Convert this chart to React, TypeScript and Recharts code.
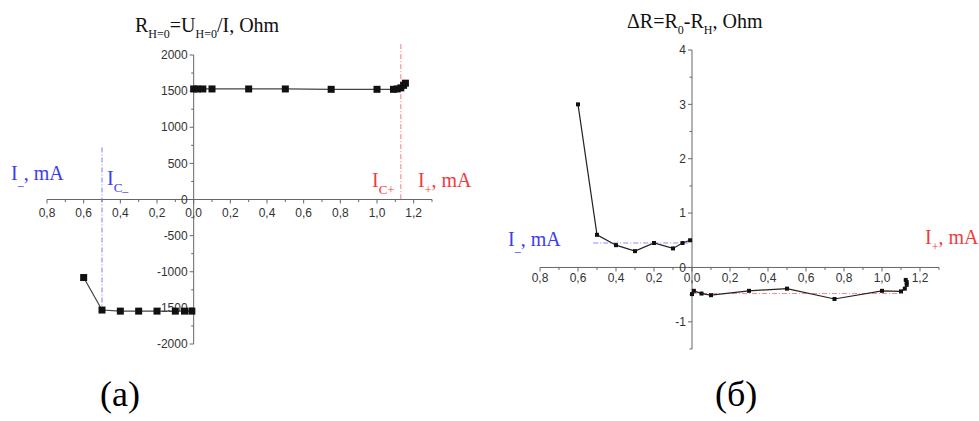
import * as Recharts from "recharts";
import { LineChart, Line, XAxis, YAxis, ReferenceLine, Customized } from "recharts";

// panel (a): R(H=0) vs current, left branch is I-, right branch is I+
const aNegI = [-0.6, -0.5, -0.4, -0.3, -0.2, -0.1, -0.05, -0.01];
const aNegR = [-1080, -1530, -1545, -1545, -1545, -1545, -1545, -1545];
const aPosI = [0, 0.02, 0.05, 0.1, 0.3, 0.5, 0.75, 1.0, 1.09, 1.11, 1.13, 1.145, 1.155];
const aPosR = [1530, 1530, 1530, 1530, 1530, 1530, 1525, 1525, 1525, 1530, 1545, 1580, 1610];

// panel (б): ΔR vs current
const bNegI = [-0.6, -0.5, -0.4, -0.3, -0.2, -0.1, -0.05, -0.01];
const bNegD = [3.0, 0.6, 0.41, 0.3, 0.45, 0.35, 0.45, 0.5];
const bPosI = [0, 0.01, 0.05, 0.1, 0.3, 0.5, 0.75, 1.0, 1.1, 1.12, 1.13, 1.13, 1.125];
const bPosD = [-0.49, -0.43, -0.48, -0.51, -0.43, -0.39, -0.58, -0.43, -0.44, -0.39, -0.32, -0.27, -0.23];

const xTicks = [-0.8, -0.6, -0.4, -0.2, 0, 0.2, 0.4, 0.6, 0.8, 1.0, 1.2];
const xMinor = [-0.7, -0.5, -0.3, -0.1, 0.1, 0.3, 0.5, 0.7, 0.9, 1.1, 1.3];
const aYTicks = [2000, 1500, 1000, 500, 0, -500, -1000, -1500, -2000];
const aYMinor = [1750, 1250, 750, 250, -250, -750, -1250, -1750];
const bYTicks = [4, 3, 2, 1, 0, -1];
const bYMinor = [3.5, 2.5, 1.5, 0.5, -0.5, -1.5];

const X_DOM: [number, number] = [-0.8, 1.3];
const A_DOM: [number, number] = [-2000, 2000];
const B_DOM: [number, number] = [-1.5, 4];

const SANS = "'Liberation Sans', Arial, sans-serif";
const SERIF = "'Liberation Serif', 'Times New Roman', serif";
const BLUE = "#3b3bf5";
const RED = "#f03c3c";

const zip = (xs: number[], ys: number[]) => xs.map((x, i) => ({ x, y: ys[i] }));

const fmtX = (v: number) => Math.abs(v).toFixed(1).replace(".", ",");

function squareDot(size: number) {
  return (p: any) => (
    <rect
      key={`d-${p.index}`}
      x={p.cx - size / 2}
      y={p.cy - size / 2}
      width={size}
      height={size}
      fill="#111"
    />
  );
}

// parts: [text, baseline shift (px, positive = down), font size]
function Rich({ x, y, fill, parts }: any) {
  let prev = 0;
  return (
    <text x={x} y={y} fill={fill} fontFamily={SERIF} fontSize={20}>
      {parts.map(([s, shift, size]: any, i: number) => {
        const dy = shift - prev;
        prev = shift;
        return (
          <tspan key={i} dy={dy} fontSize={size}>
            {s}
          </tspan>
        );
      })}
    </text>
  );
}

function ZeroAxes({ yDom, yTicks, yMinor, fallback, labelDy, annot }: any) {
  const R: any = Recharts;
  const pa = R.usePlotArea ? R.usePlotArea() : undefined;
  const area = pa && pa.width ? pa : fallback;
  const sx = (v: number) => area.x + ((v - X_DOM[0]) / (X_DOM[1] - X_DOM[0])) * area.width;
  const sy = (v: number) => area.y + ((yDom[1] - v) / (yDom[1] - yDom[0])) * area.height;
  const x0 = sx(0);
  const y0 = sy(0);
  const ax = "#666";

  return (
    <g>
      <line x1={area.x} x2={area.x + area.width} y1={y0} y2={y0} stroke={ax} />
      <line x1={x0} x2={x0} y1={area.y} y2={area.y + area.height} stroke={ax} />
      {xTicks.map((t) => (
        <g key={`xt${t}`}>
          <line x1={sx(t)} x2={sx(t)} y1={y0} y2={y0 + 4} stroke={ax} />
          <text x={sx(t)} y={y0 + labelDy} textAnchor="middle" fontFamily={SANS} fontSize={12} fill="#333">
            {fmtX(t)}
          </text>
        </g>
      ))}
      {xMinor.map((t) => (
        <line key={`xm${t}`} x1={sx(t)} x2={sx(t)} y1={y0} y2={y0 + 2.5} stroke={ax} />
      ))}
      {yTicks.map((t: number) => (
        <g key={`yt${t}`}>
          <line x1={x0 - 4} x2={x0} y1={sy(t)} y2={sy(t)} stroke={ax} />
          <text x={x0 - 6} y={sy(t)} dy="0.35em" textAnchor="end" fontFamily={SANS} fontSize={12} fill="#333">
            {t}
          </text>
        </g>
      ))}
      {yMinor.map((t: number) => (
        <line key={`ym${t}`} x1={x0 - 2.5} x2={x0} y1={sy(t)} y2={sy(t)} stroke={ax} />
      ))}
      {annot && annot(sx, sy)}
    </g>
  );
}

function annotA() {
  return (
    <g>
      <Rich
        x={135}
        y={32}
        fill="#111"
        parts={[["R", 0, 20], ["H=0", 6, 12], ["=U", 0, 20], ["H=0", 6, 12], ["/I, Ohm", 0, 20]]}
      />
      <Rich x={11} y={180} fill={BLUE} parts={[["I", 0, 20], ["–", 9, 12], [", mA", 0, 20]]} />
      <Rich x={107} y={185} fill={BLUE} parts={[["I", 0, 20], ["C", 7, 13], ["–", 10, 12]]} />
      <Rich x={372} y={187} fill={RED} parts={[["I", 0, 20], ["C+", 7, 13]]} />
      <Rich x={418} y={187} fill={RED} parts={[["I", 0, 20], ["+", 7, 12], [", mA", 0, 20]]} />
    </g>
  );
}

function annotB() {
  return (
    <g>
      <Rich
        x={137}
        y={28}
        fill="#111"
        parts={[["ΔR=R", 0, 20], ["0", 6, 12], ["-R", 0, 20], ["H", 6, 12], [", Ohm", 0, 20]]}
      />
      <Rich x={18} y={246} fill={BLUE} parts={[["I", 0, 20], ["–", 9, 12], [", mA", 0, 20]]} />
      <Rich x={435} y={244} fill={RED} parts={[["I", 0, 20], ["+", 7, 12], [", mA", 0, 20]]} />
    </g>
  );
}

const A_W = 490;
const A_H = 421;
const A_M = { top: 55, right: 58, bottom: 77, left: 47 };
const B_W = 489;
const B_H = 421;
const B_M = { top: 50, right: 40, bottom: 72, left: 50 };

export default function App() {
  return (
    <div style={{ position: "absolute", left: 0, top: 0, width: 979, height: 421, background: "#fff" }}>
      <div style={{ position: "absolute", left: 0, top: 0 }}>
        <LineChart width={A_W} height={A_H} margin={A_M}>
          <XAxis type="number" dataKey="x" domain={X_DOM} allowDataOverflow hide />
          <YAxis type="number" dataKey="y" domain={A_DOM} allowDataOverflow hide />
          <Customized
            component={
              <ZeroAxes
                yDom={A_DOM}
                yTicks={aYTicks}
                yMinor={aYMinor}
                labelDy={17}
                fallback={{ x: A_M.left, y: A_M.top, width: A_W - A_M.left - A_M.right, height: A_H - A_M.top - A_M.bottom }}
                annot={annotA}
              />
            }
          />
          <ReferenceLine
            segment={[{ x: -0.5, y: 720 }, { x: -0.5, y: -1530 }]}
            stroke="#7a7aff"
            strokeDasharray="5 2 1 2"
            ifOverflow="visible"
          />
          <ReferenceLine
            segment={[{ x: 1.13, y: 2150 }, { x: 1.13, y: 0 }]}
            stroke="#ff7a7a"
            strokeDasharray="5 2 1 2"
            ifOverflow="visible"
          />
          <Line data={zip(aNegI, aNegR)} dataKey="y" stroke="#444" strokeWidth={1.2} dot={squareDot(7)} isAnimationActive={false} />
          <Line data={zip(aPosI, aPosR)} dataKey="y" stroke="#444" strokeWidth={1.2} dot={squareDot(7)} isAnimationActive={false} />
        </LineChart>
      </div>
      <div style={{ position: "absolute", left: 490, top: 0 }}>
        <LineChart width={B_W} height={B_H} margin={B_M}>
          <XAxis type="number" dataKey="x" domain={X_DOM} allowDataOverflow hide />
          <YAxis type="number" dataKey="y" domain={B_DOM} allowDataOverflow hide />
          <Customized
            component={
              <ZeroAxes
                yDom={B_DOM}
                yTicks={bYTicks}
                yMinor={bYMinor}
                labelDy={15}
                fallback={{ x: B_M.left, y: B_M.top, width: B_W - B_M.left - B_M.right, height: B_H - B_M.top - B_M.bottom }}
                annot={annotB}
              />
            }
          />
          <ReferenceLine
            segment={[{ x: -0.52, y: 0.45 }, { x: -0.02, y: 0.45 }]}
            stroke="#8a8aff"
            strokeDasharray="5 2 1 2"
            ifOverflow="visible"
          />
          <ReferenceLine
            segment={[{ x: 0, y: -0.48 }, { x: 1.11, y: -0.48 }]}
            stroke="#ff8a8a"
            strokeDasharray="5 2 1 2"
            ifOverflow="visible"
          />
          <Line data={zip(bNegI, bNegD)} dataKey="y" stroke="#222" strokeWidth={1.2} dot={squareDot(4)} isAnimationActive={false} />
          <Line data={zip(bPosI, bPosD)} dataKey="y" stroke="#222" strokeWidth={1.2} dot={squareDot(4)} isAnimationActive={false} />
        </LineChart>
      </div>
      <div style={{ position: "absolute", left: 100, top: 372, fontFamily: SERIF, fontSize: 36, lineHeight: "44px" }}>(a)</div>
      <div style={{ position: "absolute", left: 715, top: 372, fontFamily: SERIF, fontSize: 36, lineHeight: "44px" }}>(б)</div>
    </div>
  );
}
